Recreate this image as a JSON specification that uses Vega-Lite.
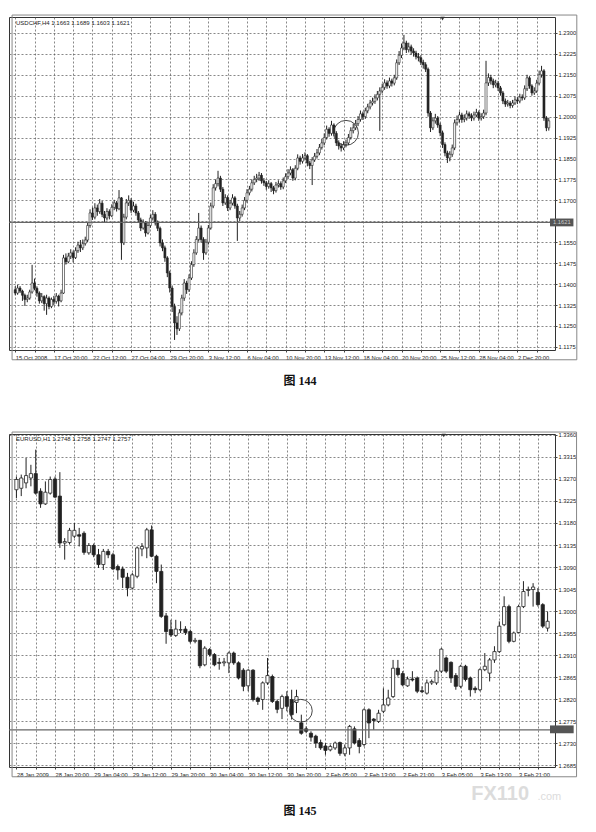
{
"$schema": "https://vega.github.io/schema/vega-lite/v6.json",
"background": "white",
"padding": {"left": 7, "top": 14, "right": 0, "bottom": 0},
"spacing": 43,
"config": {
  "view": {"stroke": "#333", "strokeWidth": 1},
  "axis": {"gridColor": "#555", "gridDash": [2, 2], "gridWidth": 0.7, "gridOpacity": 1, "tickColor": "#444", "tickSize": 2, "labelColor": "#222", "labelFont": "Liberation Sans", "labelFontSize": 5.8, "domain": false, "labelOverlap": false}
},
"datasets": {
"usdchf": [
{"i":0,"o":1.1380,"h":1.1392,"l":1.1360,"c":1.1368},
{"i":1,"o":1.1368,"h":1.1398,"l":1.1362,"c":1.1386},
{"i":2,"o":1.1386,"h":1.1393,"l":1.1368,"c":1.1375},
{"i":3,"o":1.1375,"h":1.1380,"l":1.1340,"c":1.1360},
{"i":4,"o":1.1360,"h":1.1366,"l":1.1322,"c":1.1345},
{"i":5,"o":1.1345,"h":1.1362,"l":1.1335,"c":1.1350},
{"i":6,"o":1.1350,"h":1.1380,"l":1.1344,"c":1.1372},
{"i":7,"o":1.1372,"h":1.1469,"l":1.1366,"c":1.1404},
{"i":8,"o":1.1404,"h":1.1420,"l":1.1378,"c":1.1385},
{"i":9,"o":1.1385,"h":1.1392,"l":1.1355,"c":1.1368},
{"i":10,"o":1.1368,"h":1.1374,"l":1.1330,"c":1.1340},
{"i":11,"o":1.1340,"h":1.1368,"l":1.1332,"c":1.1355},
{"i":12,"o":1.1355,"h":1.1360,"l":1.1305,"c":1.1330},
{"i":13,"o":1.1330,"h":1.1362,"l":1.1290,"c":1.1350},
{"i":14,"o":1.1350,"h":1.1356,"l":1.1310,"c":1.1320},
{"i":15,"o":1.1320,"h":1.1352,"l":1.1314,"c":1.1345},
{"i":16,"o":1.1345,"h":1.1358,"l":1.1325,"c":1.1338},
{"i":17,"o":1.1338,"h":1.1368,"l":1.1330,"c":1.1357},
{"i":18,"o":1.1357,"h":1.1362,"l":1.1320,"c":1.1340},
{"i":19,"o":1.1340,"h":1.1380,"l":1.1335,"c":1.1368},
{"i":20,"o":1.1368,"h":1.1505,"l":1.1365,"c":1.1494},
{"i":21,"o":1.1494,"h":1.1510,"l":1.1470,"c":1.1480},
{"i":22,"o":1.1480,"h":1.1512,"l":1.1475,"c":1.1500},
{"i":23,"o":1.1500,"h":1.1525,"l":1.1490,"c":1.1512},
{"i":24,"o":1.1512,"h":1.1520,"l":1.1478,"c":1.1495},
{"i":25,"o":1.1495,"h":1.1532,"l":1.1490,"c":1.1520},
{"i":26,"o":1.1520,"h":1.1552,"l":1.1512,"c":1.1540},
{"i":27,"o":1.1540,"h":1.1558,"l":1.1515,"c":1.1530},
{"i":28,"o":1.1530,"h":1.1560,"l":1.1522,"c":1.1545},
{"i":29,"o":1.1545,"h":1.1570,"l":1.1538,"c":1.1558},
{"i":30,"o":1.1558,"h":1.1622,"l":1.1550,"c":1.1610},
{"i":31,"o":1.1610,"h":1.1668,"l":1.1602,"c":1.1655},
{"i":32,"o":1.1655,"h":1.1675,"l":1.1630,"c":1.1640},
{"i":33,"o":1.1640,"h":1.1690,"l":1.1632,"c":1.1673},
{"i":34,"o":1.1673,"h":1.1685,"l":1.1645,"c":1.1660},
{"i":35,"o":1.1660,"h":1.1705,"l":1.1652,"c":1.1690},
{"i":36,"o":1.1690,"h":1.1698,"l":1.1640,"c":1.1650},
{"i":37,"o":1.1650,"h":1.1662,"l":1.1620,"c":1.1637},
{"i":38,"o":1.1637,"h":1.1672,"l":1.1628,"c":1.1660},
{"i":39,"o":1.1660,"h":1.1668,"l":1.1632,"c":1.1645},
{"i":40,"o":1.1645,"h":1.1686,"l":1.1640,"c":1.1675},
{"i":41,"o":1.1675,"h":1.1702,"l":1.1665,"c":1.1691},
{"i":42,"o":1.1691,"h":1.1698,"l":1.1660,"c":1.1670},
{"i":43,"o":1.1670,"h":1.1737,"l":1.1665,"c":1.1709},
{"i":44,"o":1.1709,"h":1.1712,"l":1.1487,"c":1.1548},
{"i":45,"o":1.1548,"h":1.1652,"l":1.1540,"c":1.1640},
{"i":46,"o":1.1640,"h":1.1705,"l":1.1632,"c":1.1691},
{"i":47,"o":1.1691,"h":1.1718,"l":1.1680,"c":1.1700},
{"i":48,"o":1.1700,"h":1.1708,"l":1.1655,"c":1.1665},
{"i":49,"o":1.1665,"h":1.1695,"l":1.1658,"c":1.1680},
{"i":50,"o":1.1680,"h":1.1688,"l":1.1645,"c":1.1655},
{"i":51,"o":1.1655,"h":1.1662,"l":1.1620,"c":1.1630},
{"i":52,"o":1.1630,"h":1.1638,"l":1.1590,"c":1.1601},
{"i":53,"o":1.1601,"h":1.1632,"l":1.1595,"c":1.1620},
{"i":54,"o":1.1620,"h":1.1626,"l":1.1570,"c":1.1583},
{"i":55,"o":1.1583,"h":1.1620,"l":1.1578,"c":1.1610},
{"i":56,"o":1.1610,"h":1.1648,"l":1.1602,"c":1.1637},
{"i":57,"o":1.1637,"h":1.1665,"l":1.1628,"c":1.1650},
{"i":58,"o":1.1650,"h":1.1658,"l":1.1610,"c":1.1619},
{"i":59,"o":1.1619,"h":1.1628,"l":1.1590,"c":1.1600},
{"i":60,"o":1.1600,"h":1.1606,"l":1.1535,"c":1.1548},
{"i":61,"o":1.1548,"h":1.1560,"l":1.1518,"c":1.1530},
{"i":62,"o":1.1530,"h":1.1538,"l":1.1480,"c":1.1494},
{"i":63,"o":1.1494,"h":1.1500,"l":1.1425,"c":1.1440},
{"i":64,"o":1.1440,"h":1.1448,"l":1.1370,"c":1.1386},
{"i":65,"o":1.1386,"h":1.1395,"l":1.1300,"c":1.1320},
{"i":66,"o":1.1320,"h":1.1330,"l":1.1200,"c":1.1261},
{"i":67,"o":1.1261,"h":1.1285,"l":1.1218,"c":1.1240},
{"i":68,"o":1.1240,"h":1.1310,"l":1.1232,"c":1.1297},
{"i":69,"o":1.1297,"h":1.1362,"l":1.1288,"c":1.1350},
{"i":70,"o":1.1350,"h":1.1418,"l":1.1340,"c":1.1404},
{"i":71,"o":1.1404,"h":1.1412,"l":1.1365,"c":1.1380},
{"i":72,"o":1.1380,"h":1.1435,"l":1.1372,"c":1.1422},
{"i":73,"o":1.1422,"h":1.1482,"l":1.1415,"c":1.1470},
{"i":74,"o":1.1470,"h":1.1525,"l":1.1462,"c":1.1512},
{"i":75,"o":1.1512,"h":1.1572,"l":1.1505,"c":1.1560},
{"i":76,"o":1.1560,"h":1.1655,"l":1.1552,"c":1.1601},
{"i":77,"o":1.1601,"h":1.1610,"l":1.1548,"c":1.1560},
{"i":78,"o":1.1560,"h":1.1568,"l":1.1487,"c":1.1512},
{"i":79,"o":1.1512,"h":1.1562,"l":1.1505,"c":1.1550},
{"i":80,"o":1.1550,"h":1.1612,"l":1.1542,"c":1.1601},
{"i":81,"o":1.1601,"h":1.1692,"l":1.1595,"c":1.1680},
{"i":82,"o":1.1680,"h":1.1758,"l":1.1672,"c":1.1745},
{"i":83,"o":1.1745,"h":1.1775,"l":1.1735,"c":1.1760},
{"i":84,"o":1.1760,"h":1.1806,"l":1.1750,"c":1.1780},
{"i":85,"o":1.1780,"h":1.1788,"l":1.1730,"c":1.1740},
{"i":86,"o":1.1740,"h":1.1748,"l":1.1680,"c":1.1691},
{"i":87,"o":1.1691,"h":1.1722,"l":1.1684,"c":1.1710},
{"i":88,"o":1.1710,"h":1.1718,"l":1.1662,"c":1.1673},
{"i":89,"o":1.1673,"h":1.1702,"l":1.1665,"c":1.1690},
{"i":90,"o":1.1690,"h":1.1722,"l":1.1682,"c":1.1709},
{"i":91,"o":1.1709,"h":1.1715,"l":1.1670,"c":1.1680},
{"i":92,"o":1.1680,"h":1.1688,"l":1.1555,"c":1.1637},
{"i":93,"o":1.1637,"h":1.1662,"l":1.1625,"c":1.1650},
{"i":94,"o":1.1650,"h":1.1685,"l":1.1642,"c":1.1673},
{"i":95,"o":1.1673,"h":1.1712,"l":1.1665,"c":1.1700},
{"i":96,"o":1.1700,"h":1.1740,"l":1.1692,"c":1.1727},
{"i":97,"o":1.1727,"h":1.1752,"l":1.1718,"c":1.1740},
{"i":98,"o":1.1740,"h":1.1775,"l":1.1732,"c":1.1763},
{"i":99,"o":1.1763,"h":1.1788,"l":1.1755,"c":1.1775},
{"i":100,"o":1.1775,"h":1.1795,"l":1.1765,"c":1.1780},
{"i":101,"o":1.1780,"h":1.1802,"l":1.1770,"c":1.1790},
{"i":102,"o":1.1790,"h":1.1798,"l":1.1760,"c":1.1770},
{"i":103,"o":1.1770,"h":1.1780,"l":1.1752,"c":1.1763},
{"i":104,"o":1.1763,"h":1.1770,"l":1.1738,"c":1.1750},
{"i":105,"o":1.1750,"h":1.1772,"l":1.1742,"c":1.1760},
{"i":106,"o":1.1760,"h":1.1766,"l":1.1730,"c":1.1745},
{"i":107,"o":1.1745,"h":1.1752,"l":1.1722,"c":1.1735},
{"i":108,"o":1.1735,"h":1.1766,"l":1.1728,"c":1.1755},
{"i":109,"o":1.1755,"h":1.1772,"l":1.1746,"c":1.1760},
{"i":110,"o":1.1760,"h":1.1768,"l":1.1738,"c":1.1748},
{"i":111,"o":1.1748,"h":1.1782,"l":1.1740,"c":1.1770},
{"i":112,"o":1.1770,"h":1.1797,"l":1.1762,"c":1.1785},
{"i":113,"o":1.1785,"h":1.1812,"l":1.1776,"c":1.1798},
{"i":114,"o":1.1798,"h":1.1822,"l":1.1790,"c":1.1810},
{"i":115,"o":1.1810,"h":1.1816,"l":1.1770,"c":1.1780},
{"i":116,"o":1.1780,"h":1.1826,"l":1.1772,"c":1.1815},
{"i":117,"o":1.1815,"h":1.1865,"l":1.1808,"c":1.1852},
{"i":118,"o":1.1852,"h":1.1860,"l":1.1828,"c":1.1840},
{"i":119,"o":1.1840,"h":1.1866,"l":1.1832,"c":1.1852},
{"i":120,"o":1.1852,"h":1.1872,"l":1.1843,"c":1.1860},
{"i":121,"o":1.1860,"h":1.1866,"l":1.1822,"c":1.1834},
{"i":122,"o":1.1834,"h":1.1842,"l":1.1812,"c":1.1825},
{"i":123,"o":1.1825,"h":1.1855,"l":1.1755,"c":1.1845},
{"i":124,"o":1.1845,"h":1.1870,"l":1.1838,"c":1.1858},
{"i":125,"o":1.1858,"h":1.1884,"l":1.1850,"c":1.1870},
{"i":126,"o":1.1870,"h":1.1902,"l":1.1862,"c":1.1890},
{"i":127,"o":1.1890,"h":1.1920,"l":1.1882,"c":1.1906},
{"i":128,"o":1.1906,"h":1.1940,"l":1.1898,"c":1.1925},
{"i":129,"o":1.1925,"h":1.1968,"l":1.1918,"c":1.1955},
{"i":130,"o":1.1955,"h":1.1962,"l":1.1928,"c":1.1940},
{"i":131,"o":1.1940,"h":1.1985,"l":1.1932,"c":1.1970},
{"i":132,"o":1.1970,"h":1.1976,"l":1.1930,"c":1.1940},
{"i":133,"o":1.1940,"h":1.1948,"l":1.1895,"c":1.1906},
{"i":134,"o":1.1906,"h":1.1915,"l":1.1882,"c":1.1895},
{"i":135,"o":1.1895,"h":1.1905,"l":1.1875,"c":1.1888},
{"i":136,"o":1.1888,"h":1.1912,"l":1.1880,"c":1.1900},
{"i":137,"o":1.1900,"h":1.1918,"l":1.1890,"c":1.1906},
{"i":138,"o":1.1906,"h":1.1938,"l":1.1898,"c":1.1925},
{"i":139,"o":1.1925,"h":1.1962,"l":1.1918,"c":1.1950},
{"i":140,"o":1.1950,"h":1.1975,"l":1.1940,"c":1.1960},
{"i":141,"o":1.1960,"h":1.1988,"l":1.1952,"c":1.1975},
{"i":142,"o":1.1975,"h":1.2002,"l":1.1966,"c":1.1990},
{"i":143,"o":1.1990,"h":1.2022,"l":1.1982,"c":1.2010},
{"i":144,"o":1.2010,"h":1.2018,"l":1.1988,"c":1.2000},
{"i":145,"o":1.2000,"h":1.2032,"l":1.1992,"c":1.2021},
{"i":146,"o":1.2021,"h":1.2046,"l":1.2012,"c":1.2035},
{"i":147,"o":1.2035,"h":1.2060,"l":1.2026,"c":1.2049},
{"i":148,"o":1.2049,"h":1.2068,"l":1.2040,"c":1.2055},
{"i":149,"o":1.2055,"h":1.2080,"l":1.2046,"c":1.2067},
{"i":150,"o":1.2067,"h":1.2092,"l":1.2058,"c":1.2080},
{"i":151,"o":1.2080,"h":1.2105,"l":1.1949,"c":1.2092},
{"i":152,"o":1.2092,"h":1.2118,"l":1.2084,"c":1.2105},
{"i":153,"o":1.2105,"h":1.2134,"l":1.2096,"c":1.2121},
{"i":154,"o":1.2121,"h":1.2130,"l":1.2100,"c":1.2110},
{"i":155,"o":1.2110,"h":1.2140,"l":1.2102,"c":1.2128},
{"i":156,"o":1.2128,"h":1.2136,"l":1.2108,"c":1.2120},
{"i":157,"o":1.2120,"h":1.2150,"l":1.2112,"c":1.2139},
{"i":158,"o":1.2139,"h":1.2205,"l":1.2132,"c":1.2193},
{"i":159,"o":1.2193,"h":1.2235,"l":1.2185,"c":1.2220},
{"i":160,"o":1.2220,"h":1.2262,"l":1.2210,"c":1.2246},
{"i":161,"o":1.2246,"h":1.2293,"l":1.2238,"c":1.2264},
{"i":162,"o":1.2264,"h":1.2272,"l":1.2228,"c":1.2240},
{"i":163,"o":1.2240,"h":1.2265,"l":1.2230,"c":1.2250},
{"i":164,"o":1.2250,"h":1.2258,"l":1.2222,"c":1.2235},
{"i":165,"o":1.2235,"h":1.2245,"l":1.2215,"c":1.2228},
{"i":166,"o":1.2228,"h":1.2236,"l":1.2205,"c":1.2215},
{"i":167,"o":1.2215,"h":1.2228,"l":1.2198,"c":1.2211},
{"i":168,"o":1.2211,"h":1.2220,"l":1.2185,"c":1.2195},
{"i":169,"o":1.2195,"h":1.2204,"l":1.2172,"c":1.2186},
{"i":170,"o":1.2186,"h":1.2195,"l":1.2160,"c":1.2170},
{"i":171,"o":1.2170,"h":1.2176,"l":1.2000,"c":1.2013},
{"i":172,"o":1.2013,"h":1.2020,"l":1.1945,"c":1.1960},
{"i":173,"o":1.1960,"h":1.1998,"l":1.1952,"c":1.1985},
{"i":174,"o":1.1985,"h":1.2010,"l":1.1975,"c":1.1995},
{"i":175,"o":1.1995,"h":1.2002,"l":1.1960,"c":1.1970},
{"i":176,"o":1.1970,"h":1.1978,"l":1.1930,"c":1.1942},
{"i":177,"o":1.1942,"h":1.1950,"l":1.1888,"c":1.1900},
{"i":178,"o":1.1900,"h":1.1908,"l":1.1858,"c":1.1870},
{"i":179,"o":1.1870,"h":1.1878,"l":1.1834,"c":1.1852},
{"i":180,"o":1.1852,"h":1.1876,"l":1.1840,"c":1.1865},
{"i":181,"o":1.1865,"h":1.1900,"l":1.1856,"c":1.1888},
{"i":182,"o":1.1888,"h":1.1990,"l":1.1880,"c":1.1978},
{"i":183,"o":1.1978,"h":1.2004,"l":1.1968,"c":1.1990},
{"i":184,"o":1.1990,"h":1.2018,"l":1.1980,"c":1.2006},
{"i":185,"o":1.2006,"h":1.2014,"l":1.1978,"c":1.1990},
{"i":186,"o":1.1990,"h":1.2008,"l":1.1980,"c":1.1995},
{"i":187,"o":1.1995,"h":1.2022,"l":1.1986,"c":1.2010},
{"i":188,"o":1.2010,"h":1.2018,"l":1.1992,"c":1.2003},
{"i":189,"o":1.2003,"h":1.2012,"l":1.1984,"c":1.1995},
{"i":190,"o":1.1995,"h":1.2018,"l":1.1986,"c":1.2006},
{"i":191,"o":1.2006,"h":1.2028,"l":1.1998,"c":1.2015},
{"i":192,"o":1.2015,"h":1.2022,"l":1.1985,"c":1.1995},
{"i":193,"o":1.1995,"h":1.2012,"l":1.1986,"c":1.2000},
{"i":194,"o":1.2000,"h":1.2025,"l":1.1992,"c":1.2013},
{"i":195,"o":1.2013,"h":1.2200,"l":1.2005,"c":1.2121},
{"i":196,"o":1.2121,"h":1.2155,"l":1.2110,"c":1.2140},
{"i":197,"o":1.2140,"h":1.2150,"l":1.2115,"c":1.2128},
{"i":198,"o":1.2128,"h":1.2136,"l":1.2102,"c":1.2114},
{"i":199,"o":1.2114,"h":1.2132,"l":1.2105,"c":1.2120},
{"i":200,"o":1.2120,"h":1.2128,"l":1.2092,"c":1.2103},
{"i":201,"o":1.2103,"h":1.2110,"l":1.2075,"c":1.2085},
{"i":202,"o":1.2085,"h":1.2092,"l":1.2045,"c":1.2056},
{"i":203,"o":1.2056,"h":1.2065,"l":1.2035,"c":1.2045},
{"i":204,"o":1.2045,"h":1.2060,"l":1.2036,"c":1.2049},
{"i":205,"o":1.2049,"h":1.2056,"l":1.2030,"c":1.2040},
{"i":206,"o":1.2040,"h":1.2060,"l":1.2032,"c":1.2049},
{"i":207,"o":1.2049,"h":1.2072,"l":1.2042,"c":1.2060},
{"i":208,"o":1.2060,"h":1.2070,"l":1.2045,"c":1.2056},
{"i":209,"o":1.2056,"h":1.2082,"l":1.2048,"c":1.2070},
{"i":210,"o":1.2070,"h":1.2080,"l":1.2058,"c":1.2067},
{"i":211,"o":1.2067,"h":1.2112,"l":1.2060,"c":1.2100},
{"i":212,"o":1.2100,"h":1.2150,"l":1.2092,"c":1.2139},
{"i":213,"o":1.2139,"h":1.2145,"l":1.2100,"c":1.2110},
{"i":214,"o":1.2110,"h":1.2116,"l":1.2075,"c":1.2085},
{"i":215,"o":1.2085,"h":1.2105,"l":1.2078,"c":1.2092},
{"i":216,"o":1.2092,"h":1.2132,"l":1.2085,"c":1.2120},
{"i":217,"o":1.2120,"h":1.2165,"l":1.2112,"c":1.2150},
{"i":218,"o":1.2150,"h":1.2182,"l":1.2140,"c":1.2164},
{"i":219,"o":1.2164,"h":1.2170,"l":1.1985,"c":1.1995},
{"i":220,"o":1.1995,"h":1.2002,"l":1.1948,"c":1.1960},
{"i":221,"o":1.1960,"h":1.1996,"l":1.1950,"c":1.1985}
],
"eurusd": [
{"i":0,"o":1.3248,"h":1.3275,"l":1.3231,"c":1.3269},
{"i":1,"o":1.3251,"h":1.3279,"l":1.3235,"c":1.3272},
{"i":2,"o":1.3262,"h":1.3313,"l":1.3251,"c":1.3277},
{"i":3,"o":1.3272,"h":1.3299,"l":1.3255,"c":1.3281},
{"i":4,"o":1.3281,"h":1.3330,"l":1.3238,"c":1.3241},
{"i":5,"o":1.3245,"h":1.3251,"l":1.3211,"c":1.3219},
{"i":6,"o":1.3219,"h":1.3265,"l":1.3217,"c":1.3243},
{"i":7,"o":1.3241,"h":1.3275,"l":1.3238,"c":1.3269},
{"i":8,"o":1.3270,"h":1.3275,"l":1.3231,"c":1.3233},
{"i":9,"o":1.3235,"h":1.3284,"l":1.3129,"c":1.3139},
{"i":10,"o":1.3139,"h":1.3149,"l":1.3105,"c":1.3142},
{"i":11,"o":1.3140,"h":1.3170,"l":1.3136,"c":1.3165},
{"i":12,"o":1.3153,"h":1.3180,"l":1.3149,"c":1.3165},
{"i":13,"o":1.3156,"h":1.3170,"l":1.3132,"c":1.3153},
{"i":14,"o":1.3159,"h":1.3163,"l":1.3115,"c":1.3120},
{"i":15,"o":1.3119,"h":1.3139,"l":1.3115,"c":1.3134},
{"i":16,"o":1.3134,"h":1.3138,"l":1.3110,"c":1.3115},
{"i":17,"o":1.3115,"h":1.3127,"l":1.3088,"c":1.3095},
{"i":18,"o":1.3095,"h":1.3127,"l":1.3084,"c":1.3122},
{"i":19,"o":1.3122,"h":1.3127,"l":1.3108,"c":1.3115},
{"i":20,"o":1.3115,"h":1.3119,"l":1.3084,"c":1.3086},
{"i":21,"o":1.3091,"h":1.3095,"l":1.3064,"c":1.3084},
{"i":22,"o":1.3086,"h":1.3091,"l":1.3047,"c":1.3069},
{"i":23,"o":1.3069,"h":1.3078,"l":1.3030,"c":1.3047},
{"i":24,"o":1.3047,"h":1.3078,"l":1.3044,"c":1.3074},
{"i":25,"o":1.3071,"h":1.3132,"l":1.3067,"c":1.3129},
{"i":26,"o":1.3127,"h":1.3139,"l":1.3112,"c":1.3132},
{"i":27,"o":1.3129,"h":1.3170,"l":1.3108,"c":1.3166},
{"i":28,"o":1.3166,"h":1.3175,"l":1.3110,"c":1.3112},
{"i":29,"o":1.3112,"h":1.3115,"l":1.3057,"c":1.3081},
{"i":30,"o":1.3081,"h":1.3095,"l":1.2986,"c":1.2989},
{"i":31,"o":1.2990,"h":1.2996,"l":1.2933,"c":1.2958},
{"i":32,"o":1.2962,"h":1.2982,"l":1.2947,"c":1.2951},
{"i":33,"o":1.2950,"h":1.2982,"l":1.2947,"c":1.2963},
{"i":34,"o":1.2961,"h":1.2979,"l":1.2955,"c":1.2962},
{"i":35,"o":1.2963,"h":1.2969,"l":1.2951,"c":1.2956},
{"i":36,"o":1.2958,"h":1.2962,"l":1.2934,"c":1.2938},
{"i":37,"o":1.2938,"h":1.2945,"l":1.2934,"c":1.2940},
{"i":38,"o":1.2940,"h":1.2941,"l":1.2883,"c":1.2888},
{"i":39,"o":1.2890,"h":1.2928,"l":1.2887,"c":1.2924},
{"i":40,"o":1.2921,"h":1.2924,"l":1.2907,"c":1.2911},
{"i":41,"o":1.2911,"h":1.2914,"l":1.2887,"c":1.2890},
{"i":42,"o":1.2895,"h":1.2904,"l":1.2880,"c":1.2893},
{"i":43,"o":1.2894,"h":1.2904,"l":1.2887,"c":1.2896},
{"i":44,"o":1.2894,"h":1.2917,"l":1.2873,"c":1.2914},
{"i":45,"o":1.2914,"h":1.2917,"l":1.2890,"c":1.2894},
{"i":46,"o":1.2894,"h":1.2897,"l":1.2860,"c":1.2863},
{"i":47,"o":1.2879,"h":1.2883,"l":1.2836,"c":1.2846},
{"i":48,"o":1.2847,"h":1.2881,"l":1.2836,"c":1.2879},
{"i":49,"o":1.2879,"h":1.2881,"l":1.2815,"c":1.2819},
{"i":50,"o":1.2822,"h":1.2825,"l":1.2808,"c":1.2815},
{"i":51,"o":1.2819,"h":1.2856,"l":1.2798,"c":1.2853},
{"i":52,"o":1.2853,"h":1.2904,"l":1.2849,"c":1.2868},
{"i":53,"o":1.2866,"h":1.2870,"l":1.2812,"c":1.2815},
{"i":54,"o":1.2815,"h":1.2819,"l":1.2791,"c":1.2799},
{"i":55,"o":1.2801,"h":1.2829,"l":1.2779,"c":1.2825},
{"i":56,"o":1.2825,"h":1.2836,"l":1.2795,"c":1.2805},
{"i":57,"o":1.2819,"h":1.2839,"l":1.2778,"c":1.2788},
{"i":58,"o":1.2813,"h":1.2839,"l":1.2791,"c":1.2825},
{"i":59,"o":1.2771,"h":1.2788,"l":1.2747,"c":1.2750},
{"i":60,"o":1.2759,"h":1.2764,"l":1.2750,"c":1.2754},
{"i":61,"o":1.2750,"h":1.2754,"l":1.2733,"c":1.2742},
{"i":62,"o":1.2744,"h":1.2747,"l":1.2720,"c":1.2730},
{"i":63,"o":1.2731,"h":1.2737,"l":1.2716,"c":1.2720},
{"i":64,"o":1.2724,"h":1.2730,"l":1.2706,"c":1.2715},
{"i":65,"o":1.2716,"h":1.2727,"l":1.2713,"c":1.2723},
{"i":66,"o":1.2720,"h":1.2733,"l":1.2716,"c":1.2730},
{"i":67,"o":1.2731,"h":1.2733,"l":1.2704,"c":1.2709},
{"i":68,"o":1.2708,"h":1.2727,"l":1.2703,"c":1.2720},
{"i":69,"o":1.2720,"h":1.2767,"l":1.2706,"c":1.2764},
{"i":70,"o":1.2759,"h":1.2764,"l":1.2727,"c":1.2730},
{"i":71,"o":1.2735,"h":1.2740,"l":1.2709,"c":1.2723},
{"i":72,"o":1.2727,"h":1.2801,"l":1.2723,"c":1.2798},
{"i":73,"o":1.2798,"h":1.2801,"l":1.2740,"c":1.2771},
{"i":74,"o":1.2779,"h":1.2781,"l":1.2757,"c":1.2776},
{"i":75,"o":1.2774,"h":1.2798,"l":1.2771,"c":1.2791},
{"i":76,"o":1.2795,"h":1.2842,"l":1.2791,"c":1.2808},
{"i":77,"o":1.2808,"h":1.2839,"l":1.2805,"c":1.2822},
{"i":78,"o":1.2825,"h":1.2900,"l":1.2822,"c":1.2883},
{"i":79,"o":1.2883,"h":1.2900,"l":1.2866,"c":1.2870},
{"i":80,"o":1.2872,"h":1.2877,"l":1.2846,"c":1.2849},
{"i":81,"o":1.2847,"h":1.2866,"l":1.2845,"c":1.2861},
{"i":82,"o":1.2861,"h":1.2877,"l":1.2856,"c":1.2859},
{"i":83,"o":1.2863,"h":1.2866,"l":1.2832,"c":1.2836},
{"i":84,"o":1.2837,"h":1.2846,"l":1.2832,"c":1.2835},
{"i":85,"o":1.2832,"h":1.2860,"l":1.2829,"c":1.2853},
{"i":86,"o":1.2853,"h":1.2860,"l":1.2849,"c":1.2856},
{"i":87,"o":1.2853,"h":1.2880,"l":1.2849,"c":1.2877},
{"i":88,"o":1.2877,"h":1.2924,"l":1.2873,"c":1.2922},
{"i":89,"o":1.2904,"h":1.2907,"l":1.2873,"c":1.2877},
{"i":90,"o":1.2895,"h":1.2897,"l":1.2853,"c":1.2863},
{"i":91,"o":1.2868,"h":1.2873,"l":1.2839,"c":1.2846},
{"i":92,"o":1.2846,"h":1.2890,"l":1.2842,"c":1.2887},
{"i":93,"o":1.2887,"h":1.2890,"l":1.2856,"c":1.2860},
{"i":94,"o":1.2863,"h":1.2866,"l":1.2825,"c":1.2839},
{"i":95,"o":1.2842,"h":1.2846,"l":1.2832,"c":1.2839},
{"i":96,"o":1.2839,"h":1.2883,"l":1.2836,"c":1.2880},
{"i":97,"o":1.2880,"h":1.2914,"l":1.2877,"c":1.2887},
{"i":98,"o":1.2873,"h":1.2904,"l":1.2856,"c":1.2900},
{"i":99,"o":1.2900,"h":1.2928,"l":1.2894,"c":1.2917},
{"i":100,"o":1.2917,"h":1.2979,"l":1.2914,"c":1.2969},
{"i":101,"o":1.2972,"h":1.3030,"l":1.2969,"c":1.3009},
{"i":102,"o":1.3009,"h":1.3013,"l":1.2934,"c":1.2938},
{"i":103,"o":1.2938,"h":1.2958,"l":1.2936,"c":1.2955},
{"i":104,"o":1.2956,"h":1.3013,"l":1.2955,"c":1.3009},
{"i":105,"o":1.3009,"h":1.3061,"l":1.3006,"c":1.3040},
{"i":106,"o":1.3042,"h":1.3050,"l":1.3030,"c":1.3044},
{"i":107,"o":1.3044,"h":1.3057,"l":1.3009,"c":1.3049},
{"i":108,"o":1.3038,"h":1.3047,"l":1.3009,"c":1.3013},
{"i":109,"o":1.3013,"h":1.3016,"l":1.2965,"c":1.2969},
{"i":110,"o":1.2965,"h":1.2999,"l":1.2958,"c":1.2979}
]
},
"vconcat": [
{
  "width": 546, "height": 333,
  "title": {"text": "图 144", "orient": "bottom", "anchor": "middle", "frame": "group", "dx": 18, "offset": 16, "font": "Liberation Serif, Noto Sans CJK SC", "fontSize": 12, "fontWeight": "bold", "color": "#111"},
  "layer": [
    {
      "data": {"name": "usdchf"},
      "mark": {"type": "rule", "color": "#222", "strokeWidth": 1},
      "encoding": {
        "x": {"field": "i", "type": "quantitative", "scale": {"domain": [-0.5, 221.5], "nice": false, "zero": false},
          "axis": {"title": null, "tickCount": 200, "values": [0,8,16,24,32,40,48,56,64,72,80,88,96,104,112,120,128,136,144,152,160,168,176,184,192,200,208,216], "labelExpr": "datum.value % 16 === 0 ? ['15 Oct 2008','17 Oct 20:00','22 Oct 12:00','27 Oct 04:00','29 Oct 20:00','3 Nov 12:00','6 Nov 04:00','10 Nov 20:00','13 Nov 12:00','18 Nov 04:00','20 Nov 20:00','25 Nov 12:00','28 Nov 04:00','2 Dec 20:00'][datum.value / 16] : ''", "labelAlign": "left", "labelAngle": 0, "labelPadding": 2, "labelOverlap": false, "labelFlush": false, "grid": true}},
        "y": {"field": "l", "type": "quantitative", "scale": {"domain": [1.1164, 1.2357], "nice": false, "zero": false},
          "axis": {"title": null, "orient": "right", "tickCount": 200, "values": [1.1175,1.125,1.1325,1.14,1.1475,1.155,1.1625,1.17,1.1775,1.185,1.1925,1.2,1.2075,1.215,1.2225,1.23], "labelExpr": "abs(datum.value - 1.1625) < 0.0001 ? '' : format(datum.value, '.4f')", "labelPadding": 1, "labelOverlap": false, "labelBound": false, "grid": true}},
        "y2": {"field": "h"}
      }
    },
    {
      "data": {"name": "usdchf"},
      "mark": {"type": "bar", "width": 2, "stroke": "#222", "strokeWidth": 0.6},
      "encoding": {
        "x": {"field": "i", "type": "quantitative", "scale": {"domain": [-0.5, 221.5], "nice": false, "zero": false}},
        "y": {"field": "o", "type": "quantitative", "scale": {"domain": [1.1164, 1.2357], "nice": false, "zero": false}},
        "y2": {"field": "c"},
        "fill": {"condition": {"test": "datum.c >= datum.o", "value": "#ffffff"}, "value": "#222222"}
      }
    },
    {
      "data": {"values": [{"p": 1.1621}]},
      "mark": {"type": "rule", "color": "#666", "strokeWidth": 1.2},
      "encoding": {
        "y": {"field": "p", "type": "quantitative", "scale": {"domain": [1.1164, 1.2357], "nice": false, "zero": false}}
      }
    },
    {
      "data": {"values": [{"lab": "USDCHF,H4  1.1663 1.1689 1.1603 1.1621"}]},
      "mark": {"type": "text", "align": "left", "baseline": "top", "dx": 2, "dy": 3, "fontSize": 6, "font": "Liberation Sans", "color": "#222"},
      "encoding": {
        "x": {"datum": -0.5, "type": "quantitative", "scale": {"domain": [-0.5, 221.5], "nice": false, "zero": false}},
        "y": {"datum": 1.2357, "type": "quantitative", "scale": {"domain": [1.1164, 1.2357], "nice": false, "zero": false}},
        "text": {"field": "lab"}
      }
    },
    {
      "data": {"values": [{"a": 1}]},
      "mark": {"type": "point", "shape": "circle", "size": 620, "filled": false, "color": "#333", "strokeWidth": 0.9, "opacity": 1},
      "encoding": {
        "x": {"datum": 137, "type": "quantitative", "scale": {"domain": [-0.5, 221.5], "nice": false, "zero": false}},
        "y": {"datum": 1.1942, "type": "quantitative", "scale": {"domain": [1.1164, 1.2357], "nice": false, "zero": false}}
      }
    },
    {
      "data": {"values": [{"a": 1}]},
      "mark": {"type": "point", "shape": "triangle-down", "size": 18, "filled": true, "color": "#333", "opacity": 1},
      "encoding": {
        "x": {"datum": 177, "type": "quantitative", "scale": {"domain": [-0.5, 221.5], "nice": false, "zero": false}},
        "y": {"datum": 1.2351, "type": "quantitative", "scale": {"domain": [1.1164, 1.2357], "nice": false, "zero": false}}
      }
    },
    {
      "data": {"values": [{"a": 1}]},
      "mark": {"type": "rect", "color": "#555"},
      "encoding": {
        "x": {"datum": 221.5, "type": "quantitative", "scale": {"domain": [-0.5, 221.5], "nice": false, "zero": false}},
        "x2": {"datum": 231.2},
        "y": {"datum": 1.1635, "type": "quantitative", "scale": {"domain": [1.1164, 1.2357], "nice": false, "zero": false}},
        "y2": {"datum": 1.1607}
      }
    },
    {
      "data": {"values": [{"lab": "1.1621"}]},
      "mark": {"type": "text", "align": "left", "baseline": "middle", "dx": 3, "fontSize": 5.8, "font": "Liberation Sans", "color": "#ccc"},
      "encoding": {
        "x": {"datum": 221.5, "type": "quantitative", "scale": {"domain": [-0.5, 221.5], "nice": false, "zero": false}},
        "y": {"datum": 1.1621, "type": "quantitative", "scale": {"domain": [1.1164, 1.2357], "nice": false, "zero": false}},
        "text": {"field": "lab"}
      }
    },
    {
      "data": {"values": [{"a": 1}]},
      "mark": {"type": "rect", "fill": null, "fillOpacity": 0, "stroke": "#888", "strokeWidth": 1},
      "encoding": {
        "x": {"datum": -1.3, "type": "quantitative", "scale": {"domain": [-0.5, 221.5], "nice": false, "zero": false}},
        "x2": {"datum": 232.6},
        "y": {"datum": 1.2364, "type": "quantitative", "scale": {"domain": [1.1164, 1.2357], "nice": false, "zero": false}},
        "y2": {"datum": 1.1129}
      }
    }
  ]
},
{
  "width": 546, "height": 333,
  "title": {"text": "图 145", "orient": "bottom", "anchor": "middle", "frame": "group", "dx": 18, "offset": 2, "font": "Liberation Serif, Noto Sans CJK SC", "fontSize": 12, "fontWeight": "bold", "color": "#111"},
  "layer": [
    {
      "data": {"name": "eurusd"},
      "mark": {"type": "rule", "color": "#222", "strokeWidth": 1},
      "encoding": {
        "x": {"field": "i", "type": "quantitative", "scale": {"domain": [-0.5, 110.5], "nice": false, "zero": false},
          "axis": {"title": null, "tickCount": 200, "values": [0,4,8,12,16,20,24,28,32,36,40,44,48,52,56,60,64,68,72,76,80,84,88,92,96,100,104,108], "labelExpr": "datum.value % 8 === 0 ? ['28 Jan 2009','28 Jan 20:00','29 Jan 04:00','29 Jan 12:00','29 Jan 20:00','30 Jan 04:00','30 Jan 12:00','30 Jan 20:00','2 Feb 05:00','2 Feb 13:00','2 Feb 21:00','3 Feb 05:00','3 Feb 13:00','3 Feb 21:00'][datum.value / 8] : ''", "labelAlign": "left", "labelAngle": 0, "labelPadding": 2, "labelOverlap": false, "labelFlush": false, "grid": true}},
        "y": {"field": "l", "type": "quantitative", "scale": {"domain": [1.2681, 1.3362], "nice": false, "zero": false},
          "axis": {"title": null, "orient": "right", "tickCount": 200, "values": [1.2685,1.273,1.2775,1.282,1.2865,1.291,1.2955,1.3,1.3045,1.309,1.3135,1.318,1.3225,1.327,1.3315,1.336], "format": ".4f", "labelPadding": 1, "labelOverlap": false, "labelBound": false, "grid": true}},
        "y2": {"field": "h"}
      }
    },
    {
      "data": {"name": "eurusd"},
      "mark": {"type": "bar", "width": 3.2, "stroke": "#222", "strokeWidth": 0.8},
      "encoding": {
        "x": {"field": "i", "type": "quantitative", "scale": {"domain": [-0.5, 110.5], "nice": false, "zero": false}},
        "y": {"field": "o", "type": "quantitative", "scale": {"domain": [1.2681, 1.3362], "nice": false, "zero": false}},
        "y2": {"field": "c"},
        "fill": {"condition": {"test": "datum.c >= datum.o", "value": "#ffffff"}, "value": "#222222"}
      }
    },
    {
      "data": {"values": [{"p": 1.2757}]},
      "mark": {"type": "rule", "color": "#666", "strokeWidth": 1.2},
      "encoding": {
        "y": {"field": "p", "type": "quantitative", "scale": {"domain": [1.2681, 1.3362], "nice": false, "zero": false}}
      }
    },
    {
      "data": {"values": [{"lab": "EURUSD,H1  1.2748 1.2758 1.2747 1.2757"}]},
      "mark": {"type": "text", "align": "left", "baseline": "top", "dx": 2, "dy": 2, "fontSize": 6, "font": "Liberation Sans", "color": "#222"},
      "encoding": {
        "x": {"datum": -0.5, "type": "quantitative", "scale": {"domain": [-0.5, 110.5], "nice": false, "zero": false}},
        "y": {"datum": 1.3362, "type": "quantitative", "scale": {"domain": [1.2681, 1.3362], "nice": false, "zero": false}},
        "text": {"field": "lab"}
      }
    },
    {
      "data": {"values": [{"a": 1}]},
      "mark": {"type": "point", "shape": "circle", "size": 520, "filled": false, "color": "#333", "strokeWidth": 0.9, "opacity": 1},
      "encoding": {
        "x": {"datum": 58.9, "type": "quantitative", "scale": {"domain": [-0.5, 110.5], "nice": false, "zero": false}},
        "y": {"datum": 1.2796, "type": "quantitative", "scale": {"domain": [1.2681, 1.3362], "nice": false, "zero": false}}
      }
    },
    {
      "data": {"values": [{"a": 1}]},
      "mark": {"type": "point", "shape": "triangle-down", "size": 18, "filled": true, "color": "#333", "opacity": 1},
      "encoding": {
        "x": {"datum": 88.5, "type": "quantitative", "scale": {"domain": [-0.5, 110.5], "nice": false, "zero": false}},
        "y": {"datum": 1.3359, "type": "quantitative", "scale": {"domain": [1.2681, 1.3362], "nice": false, "zero": false}}
      }
    },
    {
      "data": {"values": [{"a": 1}]},
      "mark": {"type": "rect", "color": "#555"},
      "encoding": {
        "x": {"datum": 110.5, "type": "quantitative", "scale": {"domain": [-0.5, 110.5], "nice": false, "zero": false}},
        "x2": {"datum": 115.4},
        "y": {"datum": 1.2766, "type": "quantitative", "scale": {"domain": [1.2681, 1.3362], "nice": false, "zero": false}},
        "y2": {"datum": 1.2750}
      }
    },
    {
      "data": {"values": [{"a": 1}]},
      "mark": {"type": "rect", "fill": null, "fillOpacity": 0, "stroke": "#888", "strokeWidth": 1},
      "encoding": {
        "x": {"datum": -0.9, "type": "quantitative", "scale": {"domain": [-0.5, 110.5], "nice": false, "zero": false}},
        "x2": {"datum": 116.0},
        "y": {"datum": 1.3366, "type": "quantitative", "scale": {"domain": [1.2681, 1.3362], "nice": false, "zero": false}},
        "y2": {"datum": 1.2661}
      }
    },
    {
      "data": {"values": [{"lab": "FX110"}]},
      "mark": {"type": "text", "align": "left", "baseline": "alphabetic", "fontSize": 20, "fontWeight": "bold", "font": "Liberation Sans", "color": "#dcdcdc"},
      "encoding": {
        "x": {"datum": 94.2, "type": "quantitative", "scale": {"domain": [-0.5, 110.5], "nice": false, "zero": false}},
        "y": {"datum": 1.2614, "type": "quantitative", "scale": {"domain": [1.2681, 1.3362], "nice": false, "zero": false}},
        "text": {"field": "lab"}
      }
    },
    {
      "data": {"values": [{"lab": ".com"}]},
      "mark": {"type": "text", "align": "left", "baseline": "alphabetic", "fontSize": 11, "font": "Liberation Sans", "color": "#dcdcdc"},
      "encoding": {
        "x": {"datum": 107.9, "type": "quantitative", "scale": {"domain": [-0.5, 110.5], "nice": false, "zero": false}},
        "y": {"datum": 1.2614, "type": "quantitative", "scale": {"domain": [1.2681, 1.3362], "nice": false, "zero": false}},
        "text": {"field": "lab"}
      }
    }
  ]
}
]
}
